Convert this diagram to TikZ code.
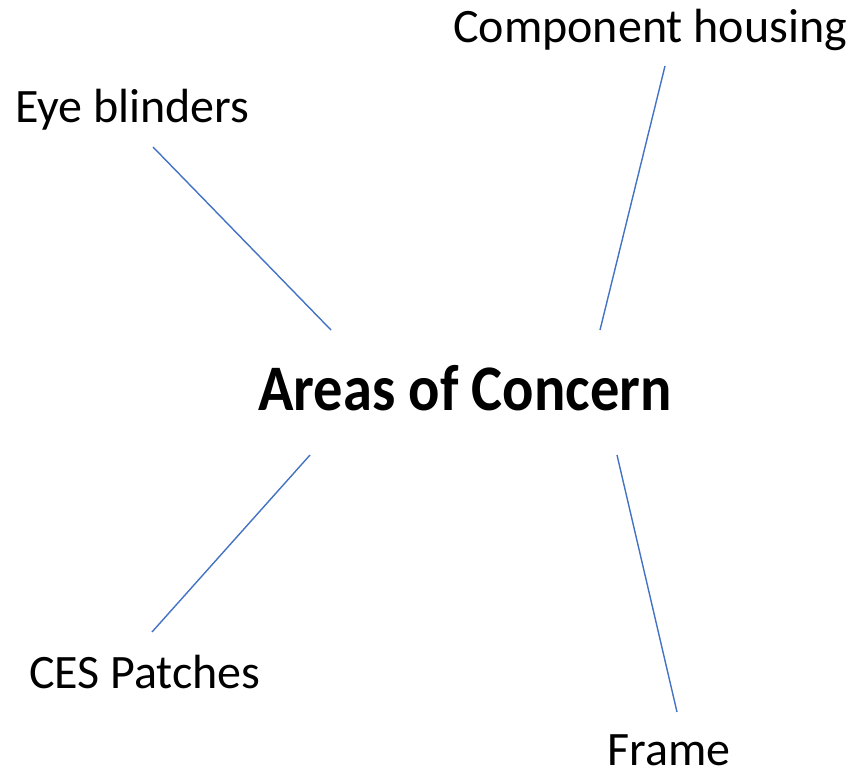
\documentclass[tikz,border=0pt]{standalone}
\usepackage{fontspec}
\setmainfont{Carlito}
\definecolor{linkblue}{HTML}{4472C4}
\begin{document}
\begin{tikzpicture}[x=1pt,y=-1pt,
  label/.style={inner sep=0pt,anchor=base west,font=\fontsize{48}{56}\selectfont},
  title/.style={inner sep=0pt,anchor=base west,font=\bfseries\fontsize{65}{78}\selectfont},
  link/.style={draw=linkblue,line width=1.4pt}]
\useasboundingbox[fill=white] (0,0) rectangle (851,771);
\node[title] (center) at (258,410) {\scalebox{0.9}[1]{Areas of Concern}};
\node[label] (comp) at (453,42) {Component housing};
\node[label] (eye) at (15,122) {Eye blinders};
\node[label] (ces) at (29,688) {CES Patches};
\node[label] (frame) at (607,765) {Frame};
\coordinate (eyeEnd) at (153,147);
\coordinate (eyeIn) at (331,330);
\coordinate (compEnd) at (665,66);
\coordinate (compIn) at (600,330);
\coordinate (cesEnd) at (152,632);
\coordinate (cesIn) at (310,455);
\coordinate (frameEnd) at (677,712);
\coordinate (frameIn) at (617,455);
\draw[link] (eyeEnd) -- (eyeIn);
\draw[link] (compEnd) -- (compIn);
\draw[link] (cesIn) -- (cesEnd);
\draw[link] (frameIn) -- (frameEnd);
\end{tikzpicture}
\end{document}
